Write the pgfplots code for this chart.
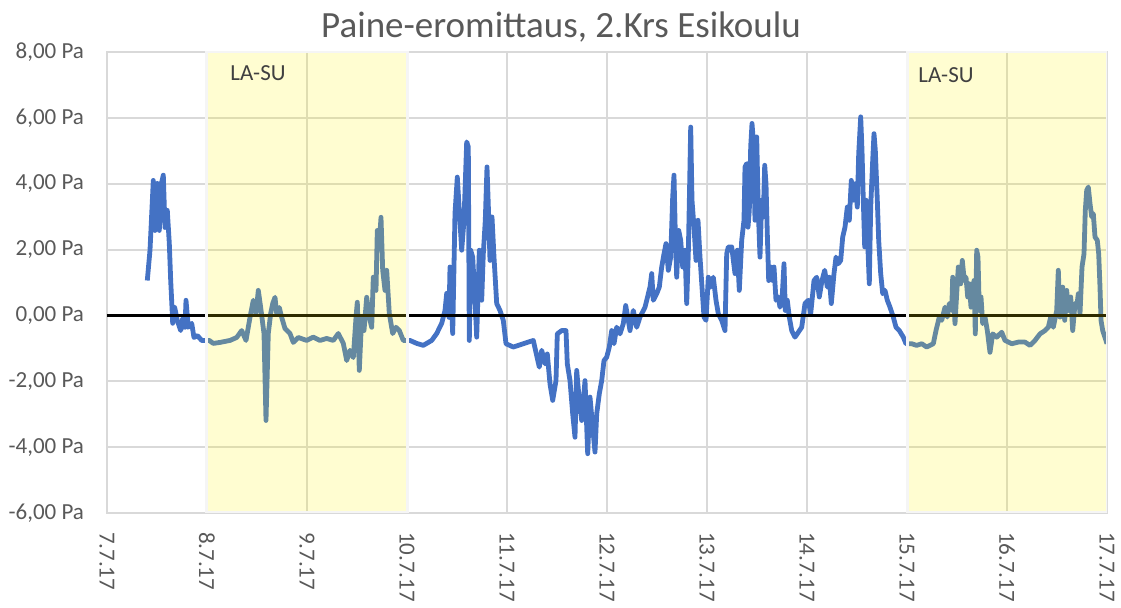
\documentclass[border=0pt]{standalone}
\usepackage{fontspec}
\setmainfont{Carlito}
\usepackage{pgfplots}
\pgfplotsset{compat=1.18}
\usetikzlibrary{calc}
\definecolor{lineblue}{HTML}{4472C4}
\definecolor{gridgray}{HTML}{D9D9D9}
\definecolor{txtgray}{HTML}{595959}

\begin{document}
\begin{tikzpicture}
\begin{axis}[
    scale only axis,
    width=500bp, height=230.5bp,
    xmin=7, xmax=17, ymin=-6, ymax=8,
    xtick={7,8,...,17},
    xticklabels={7.7.17,8.7.17,9.7.17,10.7.17,11.7.17,12.7.17,13.7.17,14.7.17,15.7.17,16.7.17,17.7.17},
    ytick={-6,-4,...,8},
    yticklabels={{-6,00 Pa},{-4,00 Pa},{-2,00 Pa},{0,00 Pa},{2,00 Pa},{4,00 Pa},{6,00 Pa},{8,00 Pa}},
    grid=major,
    major grid style={gridgray, line width=1bp},
    axis line style={gridgray, line width=1bp},
    major tick length=0pt,
    tick label style={font=\fontsize{11.5bp}{13bp}\selectfont, text=txtgray},
    xticklabel style={rotate=-90, anchor=west},
    xticklabel shift=6bp,
    yticklabel shift=8bp,
    /pgf/number format/assume math mode=true,
]
\coordinate (ll) at (rel axis cs:0,0);
\coordinate (ur) at (rel axis cs:1,1);

% pressure difference
\addplot[lineblue, line width=2.4bp, line join=round] coordinates {
(7.403,1.06)(7.43,1.98)(7.463,4.10)(7.48,2.58)(7.503,4.01)(7.523,2.58)(7.54,3.95)(7.563,4.26)(7.58,2.67)(7.603,3.19)(7.623,2.19)(7.637,1.06)(7.65,0.24)(7.657,-0.24)(7.677,0.24)(7.703,-0.15)(7.737,-0.46)(7.757,-0.09)(7.78,-0.36)(7.79,0.46)(7.813,-0.36)(7.847,-0.24)(7.87,-0.67)(7.903,-0.61)(7.947,-0.76)
(8.023,-0.76)(8.063,-0.85)(8.13,-0.82)(8.23,-0.76)(8.297,-0.67)(8.347,-0.46)(8.39,-0.76)(8.43,-0.06)(8.463,0.46)(8.49,0.06)(8.513,0.76)(8.537,0.24)(8.57,-0.55)(8.59,-3.19)(8.613,-0.55)(8.637,0.06)(8.657,0.36)(8.68,0.55)(8.697,0.06)(8.723,0.24)(8.747,-0.06)(8.78,-0.40)(8.83,-0.55)(8.863,-0.82)(8.913,-0.67)
(8.997,-0.76)(9.063,-0.66)(9.13,-0.76)(9.197,-0.70)(9.263,-0.76)(9.313,-0.55)(9.363,-0.85)(9.397,-1.37)(9.43,-1.06)(9.463,-1.28)(9.49,-0.06)(9.503,0.40)(9.523,-1.67)(9.547,-0.06)(9.57,-0.46)(9.597,0.55)(9.623,-0.06)(9.647,-0.36)(9.663,1.16)(9.69,0.76)(9.703,2.58)(9.723,2.19)(9.74,2.98)(9.757,1.37)(9.78,0.76)(9.797,1.37)(9.823,0.06)(9.857,-0.55)(9.89,-0.36)(9.923,-0.46)(9.963,-0.76)
(10.03,-0.76)(10.097,-0.85)(10.163,-0.91)(10.247,-0.76)(10.297,-0.55)(10.347,-0.24)(10.38,0.15)(10.397,0.67)(10.42,-0.06)(10.43,1.47)(10.457,-0.55)(10.48,3.10)(10.503,4.20)(10.523,3.19)(10.547,1.98)(10.57,2.89)(10.597,5.27)(10.613,5.12)(10.623,-0.76)(10.637,1.98)(10.657,1.77)(10.68,0.46)(10.697,-0.66)(10.723,1.98)(10.747,0.46)(10.763,1.87)(10.783,2.89)(10.8,4.51)(10.817,2.99)(10.83,1.67)(10.85,2.99)(10.87,1.77)(10.897,0.36)(10.93,0.15)(10.963,-0.15)(10.99,-0.86)(11.063,-0.96)(11.163,-0.86)(11.263,-0.76)
(11.323,-1.57)(11.347,-1.06)(11.38,-1.47)(11.403,-1.17)(11.43,-2.08)(11.457,-2.58)(11.49,-1.98)(11.503,-0.56)(11.547,-0.46)(11.59,-0.46)(11.603,-1.47)(11.63,-1.98)(11.657,-2.99)(11.68,-3.70)(11.697,-1.67)(11.723,-2.58)(11.747,-3.19)(11.78,-1.98)(11.807,-4.20)(11.83,-2.48)(11.857,-3.40)(11.88,-4.15)(11.897,-2.99)(11.923,-2.38)(11.947,-1.98)(11.97,-1.37)(11.997,-1.27)(12.023,-0.96)(12.047,-0.46)(12.07,-0.86)(12.097,-0.36)(12.13,-0.56)(12.163,-0.25)(12.187,0.30)(12.213,-0.15)
(12.23,-0.46)(12.263,0.15)(12.297,-0.36)(12.33,-0.05)(12.38,0.25)(12.43,0.86)(12.447,1.27)(12.463,0.46)(12.497,0.66)(12.523,0.86)(12.547,1.47)(12.57,1.87)(12.59,2.18)(12.613,1.37)(12.637,1.77)(12.657,3.60)(12.67,4.26)(12.683,2.48)(12.697,1.16)(12.717,2.58)(12.737,2.28)(12.757,1.47)(12.78,1.98)(12.797,0.36)(12.813,1.87)(12.823,3.40)(12.837,5.72)(12.85,3.50)(12.87,2.68)(12.89,1.67)(12.91,2.89)(12.93,1.77)(12.95,0.86)(12.97,-0.05)(12.99,-0.15)
(13.013,1.16)(13.037,0.86)(13.063,1.16)(13.09,0.46)(13.113,0.05)(13.147,-0.15)(13.18,-0.46)(13.197,1.87)(13.213,2.08)(13.247,2.08)(13.28,1.27)(13.303,1.98)(13.323,0.76)(13.347,2.28)(13.37,2.89)(13.38,4.51)(13.397,4.61)(13.41,2.68)(13.423,3.19)(13.437,5.12)(13.45,5.83)(13.463,5.32)(13.48,2.89)(13.497,5.42)(13.513,3.19)(13.53,1.77)(13.547,3.50)(13.563,2.99)(13.577,4.56)(13.59,4.00)(13.603,2.48)(13.617,1.06)(13.637,1.47)(13.657,1.06)(13.67,1.47)(13.69,0.46)(13.713,0.56)(13.73,0.25)(13.75,0.46)(13.77,1.57)(13.783,0.15)(13.803,0.46)(13.823,-0.05)(13.847,-0.46)(13.88,-0.66)
(13.947,-0.36)(13.98,0.36)(14.013,0.46)(14.037,0.05)(14.07,1.06)(14.097,1.16)(14.123,0.56)(14.15,1.06)(14.177,1.37)(14.203,0.86)(14.223,1.16)(14.243,0.36)(14.27,1.27)(14.29,1.77)(14.313,1.57)(14.337,1.67)(14.357,2.38)(14.38,2.68)(14.403,3.29)(14.423,2.89)(14.443,4.10)(14.463,3.50)(14.483,4.00)(14.503,3.29)(14.517,4.91)(14.537,6.03)(14.55,5.02)(14.563,3.50)(14.577,2.08)(14.59,3.50)(14.61,1.98)(14.623,0.96)(14.637,3.29)(14.657,4.71)(14.67,5.52)(14.683,5.02)(14.703,3.50)(14.717,2.28)(14.737,1.27)(14.757,0.66)(14.78,0.76)(14.803,0.46)(14.83,0.25)(14.863,-0.05)(14.89,-0.36)(14.923,-0.46)(14.963,-0.66)(14.99,-0.86)
(15.047,-0.86)(15.097,-0.91)(15.147,-0.86)(15.197,-0.96)(15.263,-0.86)(15.29,-0.46)(15.323,-0.05)(15.347,-0.15)(15.38,0.25)(15.403,-0.05)(15.423,0.36)(15.447,0.15)(15.457,1.16)(15.48,-0.25)(15.497,0.66)(15.513,1.47)(15.537,0.96)(15.553,1.67)(15.573,1.06)(15.59,1.16)(15.607,0.56)(15.623,0.96)(15.64,0.25)(15.657,0.76)(15.67,1.06)(15.683,-0.56)(15.697,1.98)(15.71,1.77)(15.723,0.15)(15.74,0.56)(15.757,-0.25)(15.78,-0.05)(15.803,-0.46)(15.83,-1.12)(15.857,-0.56)(15.897,-0.66)(15.947,-0.51)(15.98,-0.76)
(16.047,-0.86)(16.113,-0.81)(16.18,-0.81)(16.23,-0.91)(16.28,-0.76)(16.33,-0.56)(16.38,-0.46)(16.413,-0.36)(16.437,-0.05)(16.463,-0.36)(16.497,0.15)(16.513,1.37)(16.53,-0.05)(16.557,0.86)(16.577,-0.15)(16.597,0.76)(16.613,0.15)(16.637,0.56)(16.657,-0.46)(16.68,0.36)(16.697,0.25)(16.713,0.66)(16.73,0.05)(16.75,1.47)(16.77,1.87)(16.783,3.19)(16.797,3.80)(16.813,3.90)(16.83,3.40)(16.847,2.99)(16.863,3.09)(16.88,2.38)(16.903,2.28)(16.917,1.87)(16.93,0.86)(16.94,-0.15)(16.957,-0.46)(17.0,-0.86)
};

% zero line
\addplot[black, line width=1.5bp] coordinates {(7,0) (17,0)};

% weekend shading (LA-SU)
\draw[draw=white!92!gray, line width=1.5bp, fill=yellow, fill opacity=0.18] (axis cs:8,-6) rectangle (axis cs:10,8);
\draw[draw=white!92!gray, line width=1.5bp, fill=yellow, fill opacity=0.18] (axis cs:15,-6) rectangle (axis cs:17,8);
\node[font=\fontsize{11.5bp}{13bp}\selectfont, text=black!75] at (axis cs:8.51,7.36) {LA-SU};
\node[font=\fontsize{11.5bp}{13bp}\selectfont, text=black!75] at (axis cs:15.39,7.30) {LA-SU};
\end{axis}

\node[font=\fontsize{18.5bp}{22bp}\selectfont, text=txtgray] at ($(ll)+(227bp,243bp)$) {Paine-eromittaus, 2.Krs Esikoulu};

\pgfresetboundingbox
\path ($(ll)+(-53.5bp,-47.5bp)$) rectangle ($(ur)+(7bp,26bp)$);
\end{tikzpicture}
\end{document}
